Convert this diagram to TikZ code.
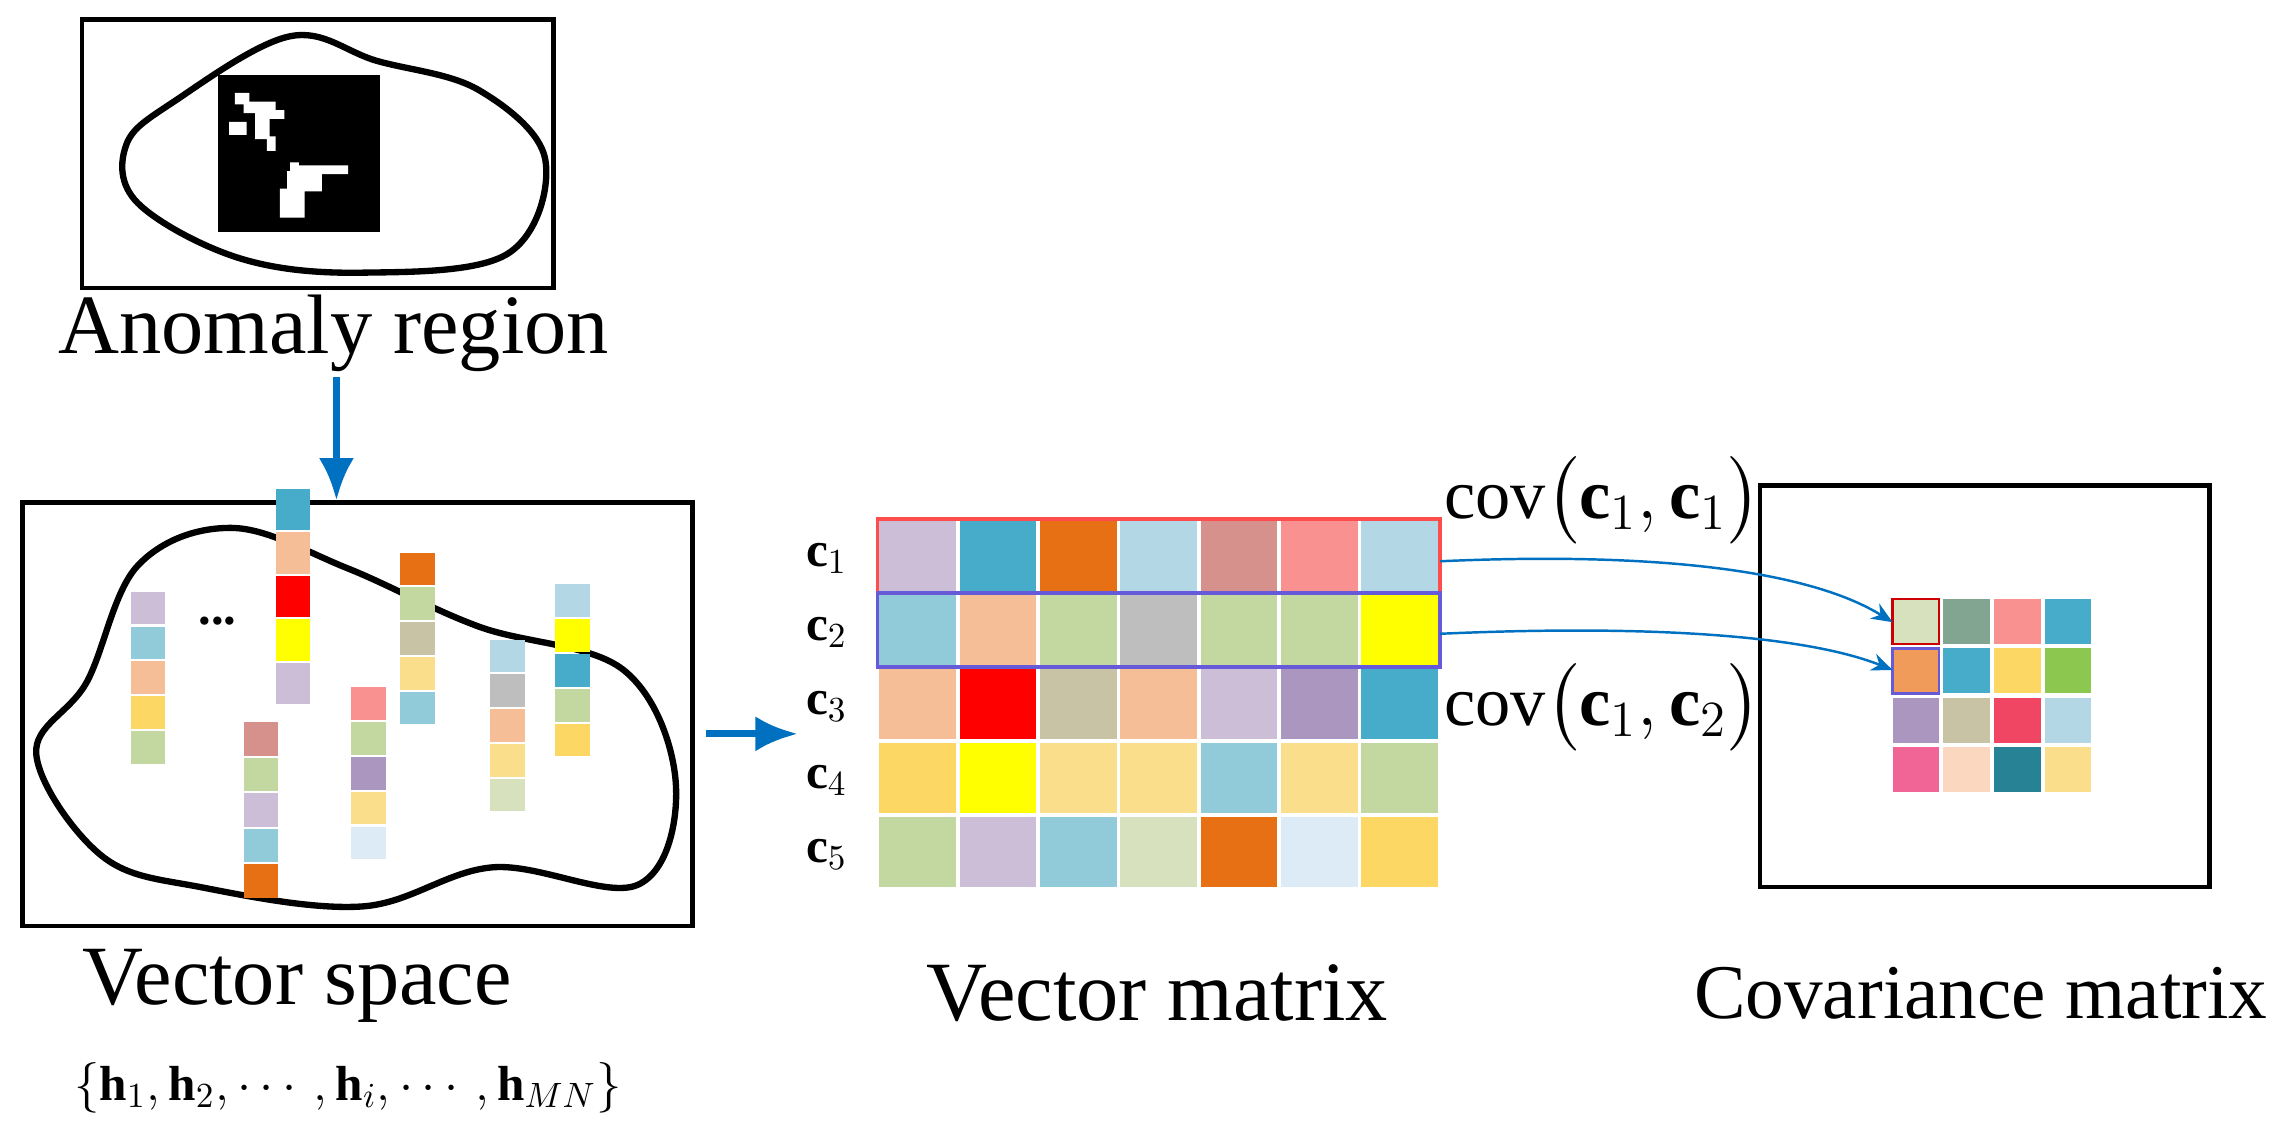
\documentclass[tikz,border=0pt]{standalone}
\usepackage{fontspec}
\setmainfont{Liberation Serif}
\usepackage{amsmath}
\usetikzlibrary{arrows.meta}
\begin{document}
\definecolor{lav}{RGB}{205,190,215}
\definecolor{lb}{RGB}{145,203,218}
\definecolor{lb2}{RGB}{180,215,230}
\definecolor{vlb}{RGB}{220,235,245}
\definecolor{pe}{RGB}{245,190,150}
\definecolor{yo}{RGB}{252,215,100}
\definecolor{gr}{RGB}{195,215,160}
\definecolor{lg}{RGB}{215,225,190}
\definecolor{te}{RGB}{70,172,202}
\definecolor{orn}{RGB}{232,112,20}
\definecolor{kh}{RGB}{200,195,165}
\definecolor{ly}{RGB}{250,222,140}
\definecolor{ro}{RGB}{215,145,140}
\definecolor{pk}{RGB}{250,145,145}
\definecolor{pu}{RGB}{170,150,190}
\definecolor{gy}{RGB}{190,190,190}
\definecolor{yl}{RGB}{255,255,0}
\definecolor{rd}{RGB}{255,0,0}
\definecolor{gg}{RGB}{130,165,145}
\definecolor{o2}{RGB}{240,155,90}
\definecolor{g2}{RGB}{140,200,80}
\definecolor{cr}{RGB}{240,70,100}
\definecolor{hp}{RGB}{240,100,150}
\definecolor{pl}{RGB}{250,215,190}
\definecolor{dt}{RGB}{40,130,150}
\definecolor{arr}{RGB}{0,112,192}
\begin{tikzpicture}[x=0.014503cm,y=-0.014503cm,
  frame/.style={draw=black,line width=1.3pt},
  blob/.style={draw=black,line width=1.8pt},
  big/.style={font=\fontsize{24}{27}\selectfont},
  barrow/.style={draw=arr,line width=2pt,-{Latex[length=12pt,width=10pt]}},
  thin/.style={draw=arr,line width=0.7pt,-{Stealth[length=6pt,width=5pt]}}]
\useasboundingbox (0,0) rectangle (1568,781);
% top box
\node[frame,minimum width=325*0.014503cm,minimum height=185*0.014503cm,anchor=north west,inner sep=0] (top) at (55,12) {};
\draw[blob] plot[smooth cycle,tension=0.6] coordinates {(200,25) (260,42) (330,62) (376,110) (350,175) (250,188) (165,178) (95,140) (87,100) (120,70)};
\fill[black] (150,52) rectangle (262,160);
\fill[white] (162,64) rectangle (172,72) (168,70) rectangle (190,78) (176,76) rectangle (186,96) (158,84) rectangle (170,93) (185,76) rectangle (196,82) (184,94) rectangle (190,104)
 (205,114) rectangle (240,120) (198,118) rectangle (222,132) (193,130) rectangle (210,150) (200,112) rectangle (206,118);
\node[big] (ar) at (230,230) {Anomaly region};
% vector space
\node[frame,minimum width=462*0.014503cm,minimum height=292*0.014503cm,anchor=north west,inner sep=0] (vs) at (14,345) {};
\draw[blob] plot[smooth cycle,tension=0.6] coordinates {(160,364) (240,392) (330,432) (430,462) (466,540) (440,610) (340,598) (250,625) (140,612) (70,590) (25,520) (60,470) (95,390)};
\coordinate (a1) at (232,260); \coordinate (a2) at (232,345);
\draw[barrow] (a1) -- (a2);
\newcommand{\vcol}[4]{\foreach \c [count=\i from 0] in {#4}{\fill[\c] (#1,#2+\i*#3) rectangle ++(24,#3-1.5);}}
\vcol{90}{408}{24}{lav,lb,pe,yo,gr}
\vcol{190}{337}{30}{te,pe,rd,yl,lav}
\vcol{276}{381}{24}{orn,gr,kh,ly,lb}
\vcol{168}{498}{24.5}{ro,gr,lav,lb,orn}
\vcol{242}{474}{24}{pk,gr,pu,ly,vlb}
\vcol{338}{441}{24}{lb2,gy,pe,ly,lg}
\vcol{383}{403}{24}{lb2,yl,te,gr,yo}
\node[font=\bfseries\Large] (dots) at (150,428) {...};
\node[big] at (205,680) {Vector space};
\node[font=\fontsize{14}{16}\selectfont] at (240,750) {$\{\mathbf{h}_1,\mathbf{h}_2,\cdots,\mathbf{h}_i,\cdots,\mathbf{h}_{MN}\}$};
% matrix
\coordinate (mw) at (550,506);
\coordinate (m0) at (487,506);
\draw[barrow] (m0) -- (mw);
\foreach \row [count=\r from 0] in {{lav,te,orn,lb2,ro,pk,lb2},{lb,pe,gr,gy,gr,gr,yl},{pe,rd,kh,pe,lav,pu,te},{yo,yl,ly,ly,lb,ly,gr},{gr,lav,lb,lg,orn,vlb,yo}}{
  \foreach \c [count=\k from 0] in \row {\fill[\c] (605+\k*55.4,358+\r*51) rectangle ++(55.4,51);
    \draw[white,line width=1pt] (605+\k*55.4,358+\r*51) rectangle ++(55.4,51);}}
\draw[red!70!white,line width=1pt] (605,358) rectangle (993,409);
\draw[pu!60!blue,line width=1pt] (605,409) rectangle (993,460);
\coordinate (r1) at (993,387); \coordinate (r2) at (993,437);
\foreach \i in {1,...,5}{\node[font=\fontsize{14}{16}\selectfont] (c\i) at (570,334+\i*51) {$\mathbf{c}_{\i}$};}
\node[big] at (798,685) {Vector matrix};
% covariance
\node[frame,minimum width=310*0.014503cm,minimum height=277*0.014503cm,anchor=north west,inner sep=0] (cb) at (1212,333) {};
\foreach \row [count=\r from 0] in {{lg,gg,pk,te},{o2,te,yo,g2},{pu,kh,cr,lb2},{hp,pl,dt,ly}}{
  \foreach \c [count=\k from 0] in \row {\fill[\c] (1305+\k*35,413+\r*34) rectangle ++(32,31);}}
\draw[red!80!black,line width=0.8pt] (1305,413) rectangle ++(32,31);
\draw[pu!60!blue,line width=0.8pt] (1305,447) rectangle ++(32,31);
\coordinate (k1) at (1305,429); \coordinate (k2) at (1305,462);
\draw[thin] (r1) .. controls (1150,380) and (1250,395) .. (k1);
\draw[thin] (r2) .. controls (1150,430) and (1250,440) .. (k2);
\node[font=\fontsize{20}{22}\selectfont] at (1105,345) {$\mathrm{cov}\bigl(\mathbf{c}_1,\mathbf{c}_1\bigr)$};
\node[font=\fontsize{20}{22}\selectfont] at (1105,488) {$\mathrm{cov}\bigl(\mathbf{c}_1,\mathbf{c}_2\bigr)$};
\node[font=\fontsize{22}{25}\selectfont,anchor=east,inner sep=0] at (1564,685) {Covariance matrix};
\end{tikzpicture}
\end{document}
